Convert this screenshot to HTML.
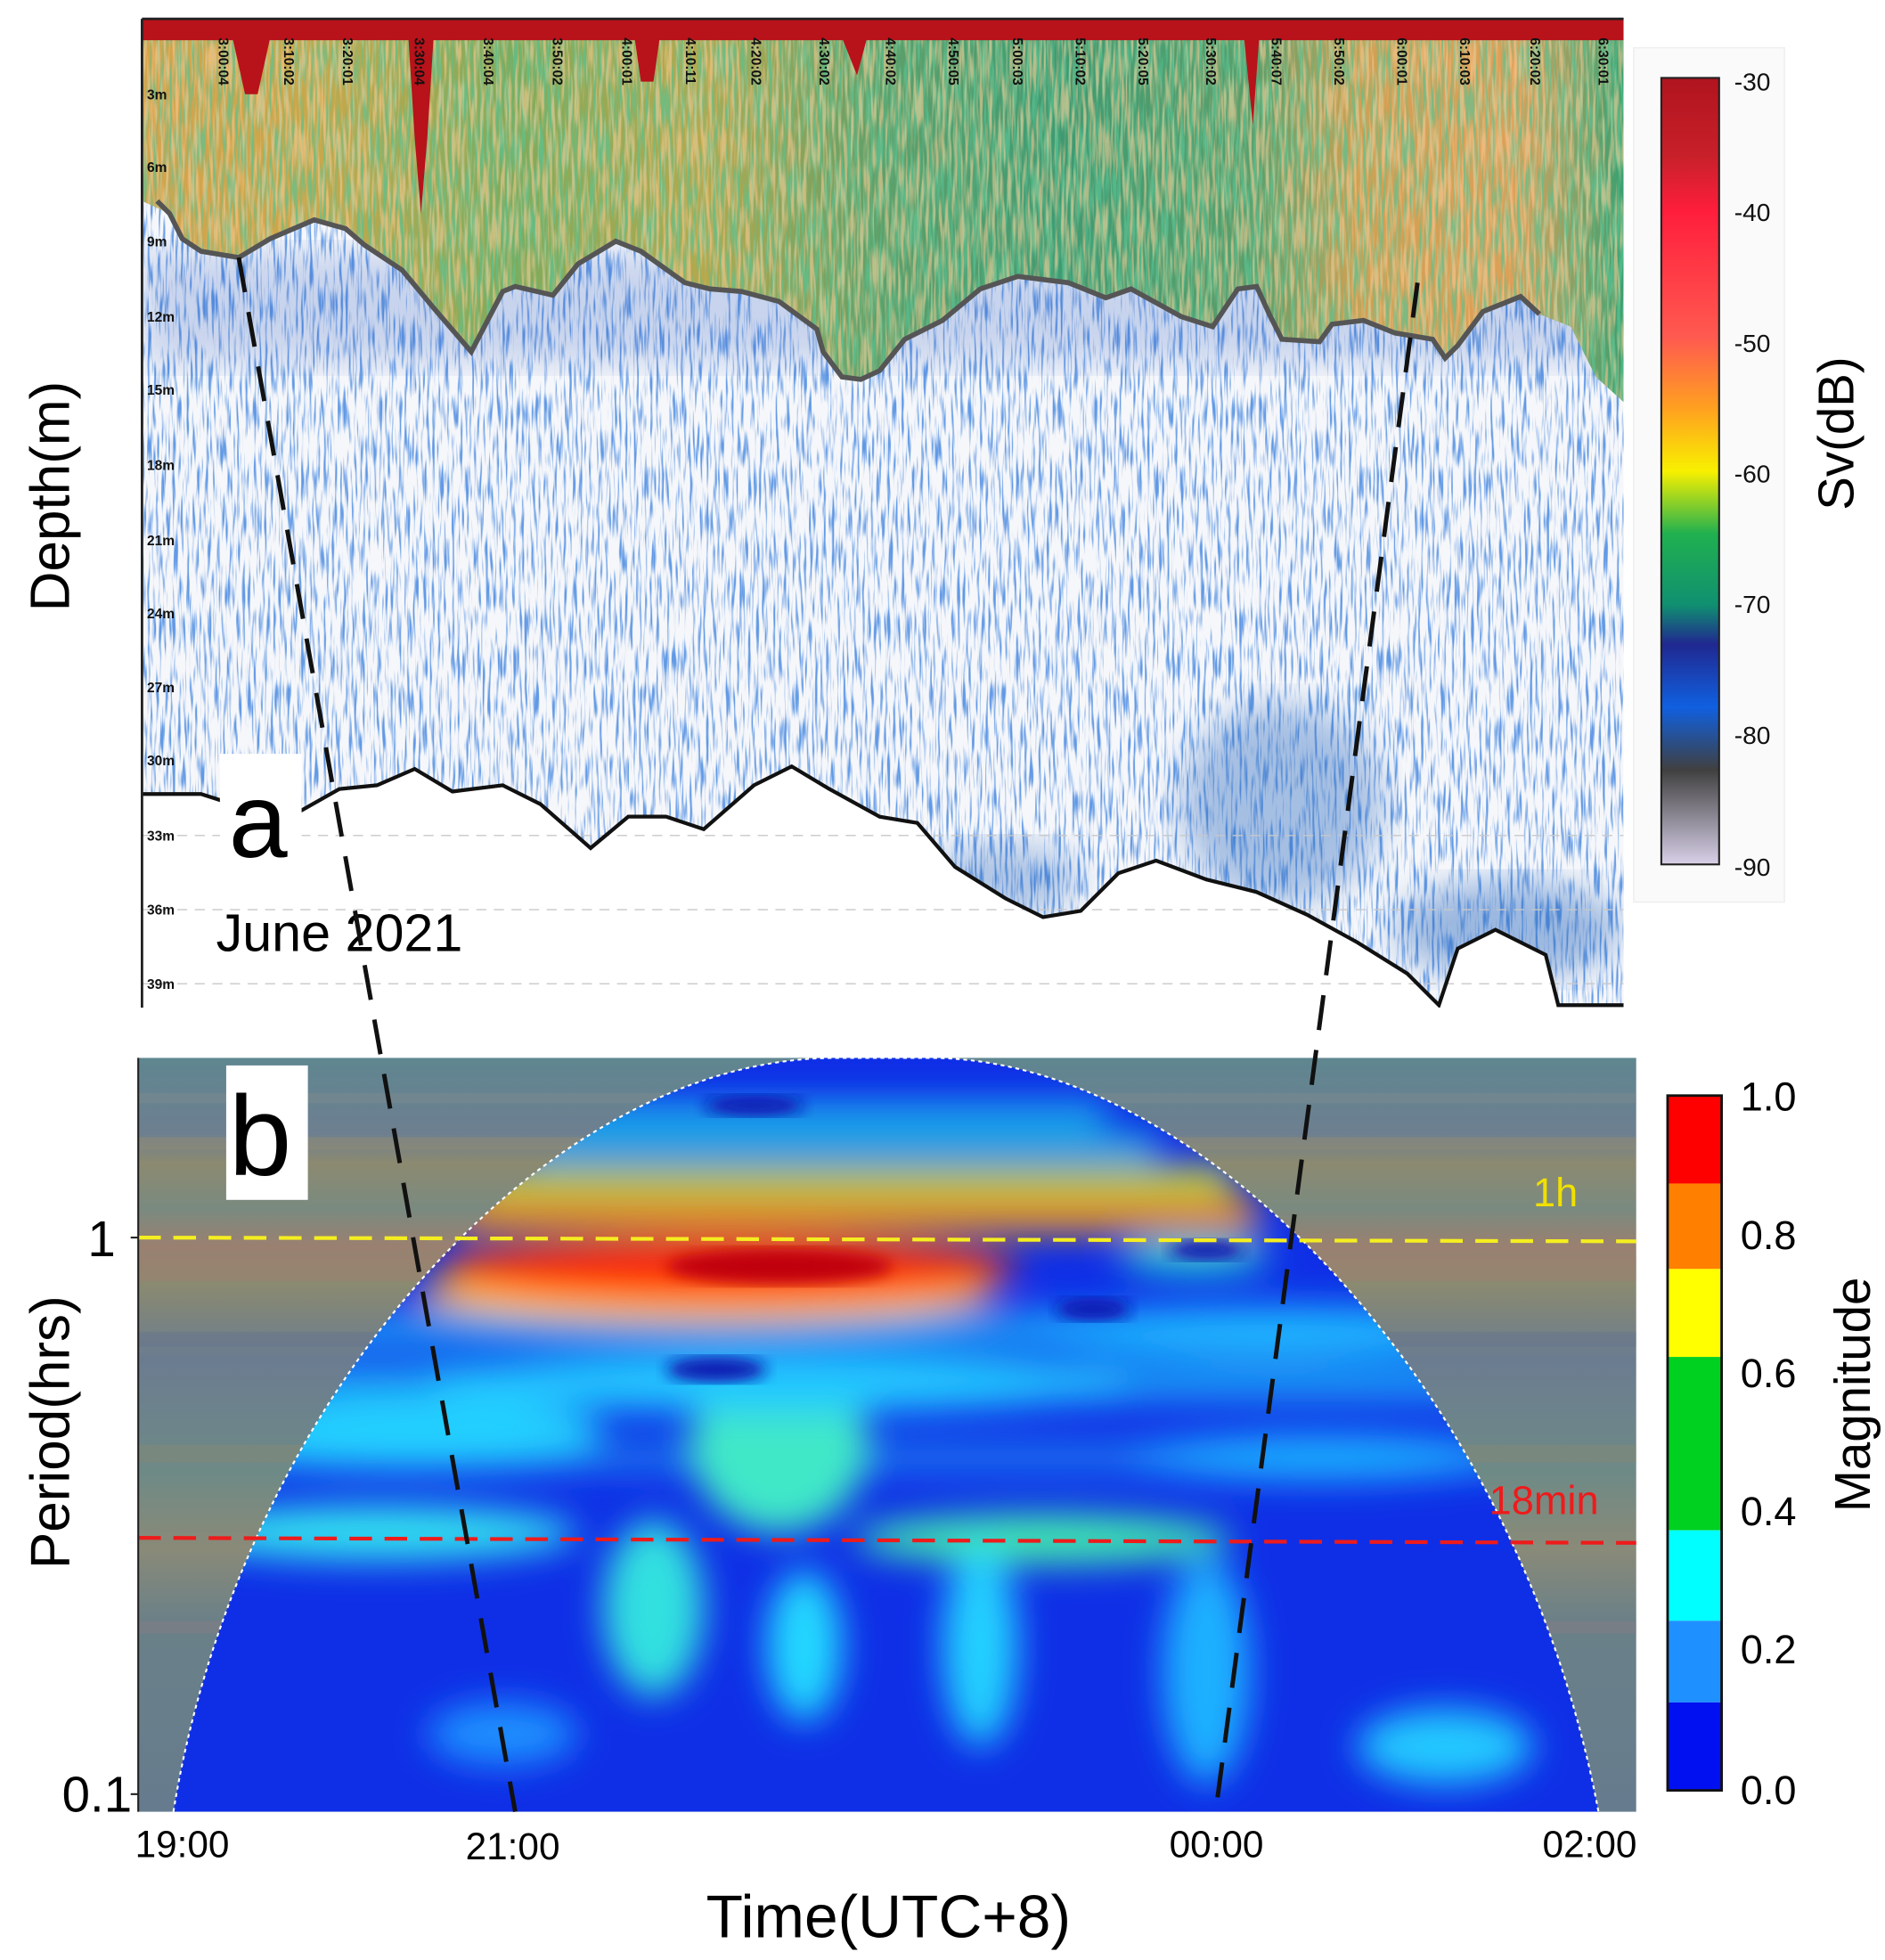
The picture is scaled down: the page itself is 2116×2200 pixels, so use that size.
<!DOCTYPE html>
<html><head><meta charset="utf-8"><style>
html,body{margin:0;padding:0;background:#fff;}
svg{display:block;}
text{font-family:"Liberation Sans",Arial,sans-serif;}
</style></head><body>
<svg width="2116" height="2200" viewBox="0 0 1500 1560" preserveAspectRatio="none" xmlns="http://www.w3.org/2000/svg">
<defs>
<filter id="speck" x="0" y="0" width="100%" height="100%" filterUnits="userSpaceOnUse">
 <feTurbulence type="fractalNoise" baseFrequency="0.45 0.035" numOctaves="2" seed="3"/>
 <feColorMatrix type="matrix" values="0 0 0 0 0.12  0 0 0 0 0.32  0 0 0 0 0.78  4 0 0 0 -1.95"/>
</filter>
<filter id="speck2" x="0" y="0" width="100%" height="100%" filterUnits="userSpaceOnUse">
 <feTurbulence type="fractalNoise" baseFrequency="0.4 0.03" numOctaves="2" seed="9"/>
 <feColorMatrix type="matrix" values="0 0 0 0 0.1  0 0 0 0 0.55  0 0 0 0 0.3  4 0 0 0 -1.6"/>
</filter>
<filter id="speck3" x="0" y="0" width="100%" height="100%" filterUnits="userSpaceOnUse">
 <feTurbulence type="fractalNoise" baseFrequency="0.4 0.03" numOctaves="2" seed="21"/>
 <feColorMatrix type="matrix" values="0 0 0 0 0.95  0 0 0 0 0.6  0 0 0 0 0.3  4 0 0 0 -1.7"/>
</filter>
<filter id="blur"><feGaussianBlur stdDeviation="14"/></filter>
<filter id="blur2"><feGaussianBlur stdDeviation="6"/></filter>
<linearGradient id="top" x1="0" x2="1" y1="0" y2="0">
 <stop offset="0" stop-color="#d6a34c"/><stop offset="0.12" stop-color="#c9a84a"/>
 <stop offset="0.25" stop-color="#7faa5a"/><stop offset="0.38" stop-color="#b8a84c"/>
 <stop offset="0.5" stop-color="#5da06a"/><stop offset="0.62" stop-color="#3f9a72"/>
 <stop offset="0.75" stop-color="#5b9e6a"/><stop offset="0.82" stop-color="#d0a052"/>
 <stop offset="0.93" stop-color="#e0a058"/><stop offset="1" stop-color="#3aa070"/>
</linearGradient>
<linearGradient id="svbar" x1="0" x2="0" y1="0" y2="1">
 <stop offset="0" stop-color="#b0141e"/><stop offset="0.1" stop-color="#c8202a"/>
 <stop offset="0.17" stop-color="#ff1e3c"/><stop offset="0.33" stop-color="#ff5a50"/>
 <stop offset="0.42" stop-color="#ffa020"/><stop offset="0.5" stop-color="#f8f000"/>
 <stop offset="0.58" stop-color="#20b050"/><stop offset="0.67" stop-color="#109070"/>
 <stop offset="0.72" stop-color="#202890"/><stop offset="0.8" stop-color="#1060e0"/>
 <stop offset="0.88" stop-color="#404040"/><stop offset="1" stop-color="#d8d0e8"/>
</linearGradient>
<linearGradient id="bgb" x1="0" x2="0" y1="0" y2="1">
 <stop offset="0" stop-color="#5f8690"/><stop offset="0.1" stop-color="#6d7f90"/>
 <stop offset="0.14" stop-color="#8c8a70"/><stop offset="0.2" stop-color="#7a8a80"/>
 <stop offset="0.25" stop-color="#9a8070"/><stop offset="0.3" stop-color="#8a8a70"/>
 <stop offset="0.4" stop-color="#6b7c90"/><stop offset="0.55" stop-color="#6e8a86"/>
 <stop offset="0.65" stop-color="#8a8a78"/><stop offset="0.75" stop-color="#6a8088"/>
 <stop offset="1" stop-color="#667c8e"/>
</linearGradient>
<clipPath id="cone"><path d="M138,1442 C190,1120 430,842 665,842 L740,842 C960,842 1210,1110 1272,1442 Z"/></clipPath>
<clipPath id="pa"><rect x="113" y="15" width="1179" height="787"/></clipPath>
<clipPath id="water"><path d="M113,160 L1292,160 L1292,800 1240,800 1230,760 1190,740 1160,755 1145,800 1120,775 1080,750 1040,728 1000,710 960,700 920,685 890,695 860,725 830,730 800,715 760,690 730,655 700,650 660,628 630,610 600,625 560,660 530,650 500,650 470,675 430,640 400,625 360,630 330,612 300,625 270,628 240,645 185,640 160,632 113,630 Z"/></clipPath>
<clipPath id="surf"><path d="M113,30 L1292,30 L1292,320 1270,300 1250,260 1225,250 1210,236 1180,248 1160,275 1150,285 1140,270 1110,265 1085,255 1060,258 1050,272 1020,270 1010,250 1000,228 985,230 965,260 940,252 900,230 880,237 850,225 810,220 780,230 750,255 720,270 700,295 685,302 670,300 655,280 650,262 620,240 590,232 565,230 545,225 510,200 490,192 460,210 440,235 410,228 400,232 375,280 345,245 320,215 290,195 275,182 250,175 215,190 190,205 160,200 145,190 135,170 113,160 Z"/></clipPath>
</defs>

<g clip-path="url(#pa)">
 <rect x="113" y="15" width="1179" height="787" fill="#fff"/>
 <g clip-path="url(#water)">
  <rect x="113" y="160" width="1179" height="645" fill="#f6f7fa"/>
  <rect x="113" y="160" width="1179" height="645" filter="url(#speck)"/>
  <rect x="113" y="200" width="1179" height="90" fill="#2a5cc0" opacity="0.22" filter="url(#blur)"/>
  <ellipse cx="1020" cy="640" rx="80" ry="80" fill="#2f6cc0" opacity="0.4" filter="url(#blur)"/>
  <ellipse cx="1200" cy="740" rx="90" ry="40" fill="#2f6cc0" opacity="0.45" filter="url(#blur)"/>
  <ellipse cx="800" cy="700" rx="60" ry="30" fill="#2f6cc0" opacity="0.35" filter="url(#blur)"/>
 </g>
 <g clip-path="url(#surf)">
  <rect x="113" y="30" width="1179" height="300" fill="url(#top)"/>
  <rect x="113" y="30" width="1179" height="300" filter="url(#speck2)" opacity="0.7"/>
  <rect x="113" y="30" width="1179" height="300" filter="url(#speck3)" opacity="0.6"/>
 </g>
 <rect x="113" y="15" width="1179" height="17" fill="#b8121a"/>
 <path d="M185,30 L215,30 205,75 195,75Z M325,30 L345,30 340,110 335,170 330,110Z M505,30 L525,30 520,65 510,65Z M670,30 L690,30 682,60Z M990,30 L1002,30 997,100Z" fill="#b8121a"/>
 <path d="M113,632 L160,632 185,640 240,645 270,628 300,625 330,612 360,630 400,625 430,640 470,675 500,650 530,650 560,660 600,625 630,610 660,628 700,650 730,655 760,690 800,715 830,730 860,725 890,695 920,685 960,700 1000,710 1040,728 1080,750 1120,775 1145,800 1160,755 1190,740 1230,760 1240,800 1292,800 1292,805 113,805Z" fill="#fff"/>
 <g stroke="#c8c8c8" stroke-width="1" stroke-dasharray="8,6">
  <line x1="113" y1="665" x2="1292" y2="665"/><line x1="113" y1="724" x2="1292" y2="724"/><line x1="113" y1="783" x2="1292" y2="783"/>
 </g>
 <path d="M113,632 L160,632 185,640 240,645 270,628 300,625 330,612 360,630 400,625 430,640 470,675 500,650 530,650 560,660 600,625 630,610 660,628 700,650 730,655 760,690 800,715 830,730 860,725 890,695 920,685 960,700 1000,710 1040,728 1080,750 1120,775 1145,800 1160,755 1190,740 1230,760 1240,800 1292,800" fill="none" stroke="#111" stroke-width="3"/>
 <path d="M125,160 135,170 145,190 160,200 190,205 215,190 250,175 275,182 290,195 320,215 345,245 375,280 400,232 410,228 440,235 460,210 490,192 510,200 545,225 565,230 590,232 620,240 650,262 655,280 670,300 685,302 700,295 720,270 750,255 780,230 810,220 850,225 880,237 900,230 940,252 965,260 985,230 1000,228 1010,250 1020,270 1050,272 1060,258 1085,255 1110,265 1140,270 1150,285 1160,275 1180,248 1210,236 1225,250" fill="none" stroke="#555" stroke-width="4"/>
 <g font-size="11" font-weight="bold" fill="#111">
  <text x="117" y="79">3m</text><text x="117" y="137">6m</text><text x="117" y="196">9m</text><text x="117" y="256">12m</text><text x="117" y="314">15m</text><text x="117" y="374">18m</text><text x="117" y="434">21m</text><text x="117" y="492">24m</text><text x="117" y="551">27m</text><text x="117" y="609">30m</text><text x="117" y="669">33m</text><text x="117" y="728">36m</text><text x="117" y="787">39m</text>
 </g>
 <g font-size="11" font-weight="bold" fill="#111">
  <text transform="translate(174,30) rotate(90)">3:00:04</text><text transform="translate(226,30) rotate(90)">3:10:02</text><text transform="translate(273,30) rotate(90)">3:20:01</text><text transform="translate(330,30) rotate(90)">3:30:04</text><text transform="translate(385,30) rotate(90)">3:40:04</text><text transform="translate(440,30) rotate(90)">3:50:02</text><text transform="translate(495,30) rotate(90)">4:00:01</text><text transform="translate(546,30) rotate(90)">4:10:11</text><text transform="translate(598,30) rotate(90)">4:20:02</text><text transform="translate(652,30) rotate(90)">4:30:02</text><text transform="translate(705,30) rotate(90)">4:40:02</text><text transform="translate(755,30) rotate(90)">4:50:05</text><text transform="translate(806,30) rotate(90)">5:00:03</text><text transform="translate(856,30) rotate(90)">5:10:02</text><text transform="translate(906,30) rotate(90)">5:20:05</text><text transform="translate(960,30) rotate(90)">5:30:02</text><text transform="translate(1012,30) rotate(90)">5:40:07</text><text transform="translate(1062,30) rotate(90)">5:50:02</text><text transform="translate(1112,30) rotate(90)">6:00:01</text><text transform="translate(1162,30) rotate(90)">6:10:03</text><text transform="translate(1218,30) rotate(90)">6:20:02</text><text transform="translate(1272,30) rotate(90)">6:30:01</text>
 </g>
</g>
<line x1="113" y1="15" x2="113" y2="802" stroke="#222" stroke-width="2"/>
<line x1="113" y1="15" x2="1292" y2="15" stroke="#222" stroke-width="2"/>
<rect x="175" y="600" width="65" height="92" fill="#fff"/>
<text x="182" y="682" font-size="84">a</text>
<text x="172" y="757" font-size="42">June 2021</text>
<text transform="translate(55,395) rotate(-90)" font-size="44" text-anchor="middle">Depth(m)</text>

<rect x="1300" y="38" width="120" height="680" fill="#fafafa" stroke="#eee"/>
<rect x="1322" y="62" width="46" height="626" fill="url(#svbar)" stroke="#222" stroke-width="1.5"/>
<g font-size="20" fill="#111">
 <text x="1380" y="72">-30</text><text x="1380" y="176">-40</text><text x="1380" y="280">-50</text><text x="1380" y="384">-60</text><text x="1380" y="488">-70</text><text x="1380" y="592">-80</text><text x="1380" y="697">-90</text>
</g>
<text transform="translate(1475,345) rotate(-90)" font-size="40" text-anchor="middle">Sv(dB)</text>

<rect x="110" y="842" width="1192" height="600" fill="url(#bgb)"/>
<g opacity="0.35">
 <rect x="110" y="870" width="1192" height="8" fill="#889090"/><rect x="110" y="905" width="1192" height="10" fill="#9a9070"/><rect x="110" y="1000" width="1192" height="20" fill="#a08070"/><rect x="110" y="1060" width="1192" height="12" fill="#607090"/><rect x="110" y="1150" width="1192" height="14" fill="#908a70"/><rect x="110" y="1290" width="1192" height="10" fill="#907a80"/>
</g>
<g clip-path="url(#cone)">
 <rect x="110" y="842" width="1192" height="600" fill="#0f2fe6"/>
 <g filter="url(#blur)">
  <rect x="110" y="1045" width="1192" height="25" fill="#1da0f5"/>
  <rect x="110" y="1085" width="1192" height="30" fill="#1a98f5"/>
  <rect x="110" y="1150" width="1192" height="20" fill="#1a80f0"/>
  <ellipse cx="330" cy="1140" rx="150" ry="28" fill="#20d0ff"/>
  <ellipse cx="620" cy="1150" rx="70" ry="70" fill="#40e8c8"/>
  <ellipse cx="620" cy="1100" rx="280" ry="24" fill="#20c8ff"/>
  <ellipse cx="1010" cy="1060" rx="200" ry="20" fill="#1ab8ff"/>
  <ellipse cx="1050" cy="1160" rx="150" ry="18" fill="#1ab0ff"/>
  <ellipse cx="300" cy="1220" rx="160" ry="22" fill="#30e0f0"/>
  <ellipse cx="830" cy="1225" rx="150" ry="20" fill="#40e8b0"/>
  <ellipse cx="520" cy="1280" rx="40" ry="70" fill="#30e0e0"/>
  <ellipse cx="640" cy="1310" rx="30" ry="60" fill="#20d8ff"/>
  <ellipse cx="780" cy="1310" rx="30" ry="80" fill="#20d0ff"/>
  <ellipse cx="960" cy="1330" rx="35" ry="90" fill="#1ab0ff"/>
  <ellipse cx="1150" cy="1390" rx="70" ry="30" fill="#20c8ff"/>
  <ellipse cx="400" cy="1380" rx="60" ry="25" fill="#1a90ff"/>
  <rect x="380" y="930" width="600" height="20" fill="#e8f020"/>
  <rect x="380" y="880" width="500" height="15" fill="#20e0f0"/>
  <rect x="420" y="905" width="500" height="15" fill="#20e8e0"/>
  <rect x="360" y="955" width="640" height="25" fill="#ff9a10"/>
  <ellipse cx="560" cy="1030" rx="230" ry="22" fill="#ffc020"/>
  <ellipse cx="580" cy="1010" rx="230" ry="25" fill="#ff2a10"/>
  <ellipse cx="950" cy="1000" rx="60" ry="12" fill="#20e8d0"/>
 </g>
 <ellipse cx="620" cy="1008" rx="90" ry="14" fill="#c00010" filter="url(#blur2)"/>
 <ellipse cx="600" cy="880" rx="40" ry="8" fill="#0818b0" filter="url(#blur2)"/>
 <ellipse cx="960" cy="995" rx="30" ry="8" fill="#0818b0" filter="url(#blur2)"/>
 <ellipse cx="870" cy="1042" rx="30" ry="9" fill="#0818b0" filter="url(#blur2)"/>
 <ellipse cx="570" cy="1090" rx="40" ry="10" fill="#0818b0" filter="url(#blur2)"/>
</g>
<path d="M138,1442 C190,1120 430,842 665,842 L740,842 C960,842 1210,1110 1272,1442" fill="none" stroke="#fff" stroke-width="1.5" stroke-dasharray="3,3"/>
<line x1="110" y1="985" x2="1302" y2="988" stroke="#f5ee20" stroke-width="3" stroke-dasharray="18,10"/>
<line x1="110" y1="1224" x2="1302" y2="1228" stroke="#ee1b1b" stroke-width="3" stroke-dasharray="18,10"/>
<text x="1220" y="960" font-size="32" fill="#f0e000">1h</text>
<text x="1185" y="1205" font-size="32" fill="#ee1b1b">18min</text>
<rect x="180" y="848" width="65" height="107" fill="#fff"/>
<text x="182" y="935" font-size="90">b</text>
<line x1="190" y1="205" x2="410" y2="1442" stroke="#111" stroke-width="3.5" stroke-dasharray="28,16"/>
<line x1="1128" y1="225" x2="967" y2="1445" stroke="#111" stroke-width="3.5" stroke-dasharray="28,16"/>
<line x1="110" y1="842" x2="110" y2="1442" stroke="#222" stroke-width="1.5"/>
<g stroke="#222" stroke-width="1.5">
 <line x1="104" y1="985" x2="110" y2="985"/><line x1="104" y1="1428" x2="110" y2="1428"/>
</g>
<text x="92" y="1000" font-size="40" text-anchor="end">1</text>
<text x="105" y="1442" font-size="40" text-anchor="end">0.1</text>
<g font-size="30" text-anchor="middle">
 <text x="145" y="1478">19:00</text><text x="408" y="1480">21:00</text><text x="968" y="1478">00:00</text><text x="1265" y="1478">02:00</text>
</g>
<text x="707" y="1542" font-size="48" text-anchor="middle">Time(UTC+8)</text>
<text transform="translate(55,1140) rotate(-90)" font-size="44" text-anchor="middle">Period(hrs)</text>
<rect x="1327" y="872" width="43" height="70" fill="#ff0000"/>
<rect x="1327" y="942" width="43" height="68" fill="#ff8000"/>
<rect x="1327" y="1010" width="43" height="70" fill="#ffff00"/>
<rect x="1327" y="1080" width="43" height="138" fill="#00d020"/>
<rect x="1327" y="1218" width="43" height="72" fill="#00ffff"/>
<rect x="1327" y="1290" width="43" height="65" fill="#1e90ff"/>
<rect x="1327" y="1355" width="43" height="70" fill="#0010f0"/>
<rect x="1327" y="872" width="43" height="553" fill="none" stroke="#111" stroke-width="2"/>
<g font-size="32">
 <text x="1385" y="884">1.0</text><text x="1385" y="994">0.8</text><text x="1385" y="1104">0.6</text><text x="1385" y="1214">0.4</text><text x="1385" y="1324">0.2</text><text x="1385" y="1436">0.0</text>
</g>
<text transform="translate(1488,1110) rotate(-90)" font-size="40" text-anchor="middle">Magnitude</text>
</svg>
</body></html>
